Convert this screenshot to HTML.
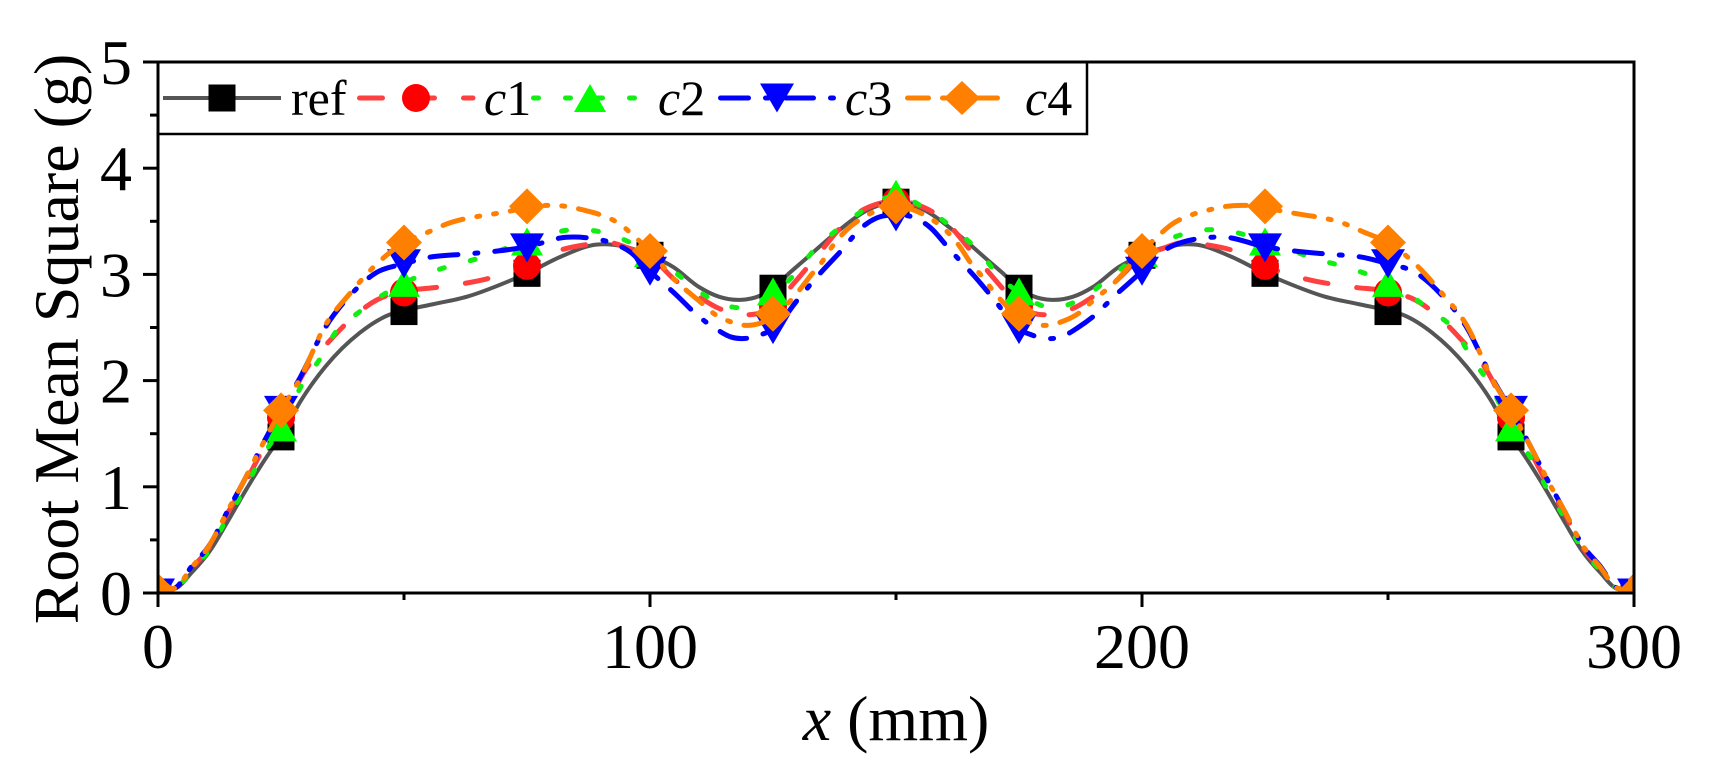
<!DOCTYPE html>
<html><head><meta charset="utf-8">
<style>
html,body{margin:0;padding:0;background:#fff;}
svg{display:block;}
text{font-family:"Liberation Serif","Times New Roman",serif;fill:#000;}
</style></head><body>
<svg id="s" width="1713" height="782" viewBox="0 0 1713 782" xmlns="http://www.w3.org/2000/svg">
<defs><clipPath id="cp"><rect x="158" y="62" width="1476" height="531"/></clipPath></defs>
<rect x="0" y="0" width="1713" height="782" fill="#fff"/>
<g id="plot" clip-path="url(#cp)"></g>

<!-- legend -->
<rect x="158" y="62" width="929" height="72" fill="#fff" stroke="#000" stroke-width="2.5"/>
<line x1="163" y1="98" x2="281" y2="98" stroke="#555555" stroke-width="4"/>
<rect x="208.5" y="84.5" width="27" height="27" fill="#000"/>
<text x="291" y="115" font-size="50">ref</text>

<line x1="359.5" y1="98" x2="473" y2="98" stroke="#ff4040" stroke-width="5" stroke-linecap="round" stroke-dasharray="23 29"/>
<circle cx="416" cy="98" r="14" fill="#ff0000"/>
<text x="484" y="115" font-size="50"><tspan font-style="italic">c</tspan>1</text>

<line x1="533.5" y1="98" x2="647" y2="98" stroke="#11ee11" stroke-width="5" stroke-linecap="round" stroke-dasharray="5 27"/>
<polygon points="574,112 606,112 590,84" fill="#00ff00"/>
<text x="658" y="115" font-size="50"><tspan font-style="italic">c</tspan>2</text>

<line x1="720.5" y1="98" x2="835" y2="98" stroke="#0000ff" stroke-width="5" stroke-linecap="round" stroke-dasharray="28 17 3 17"/>
<polygon points="760,83.5 794,83.5 777,112.5" fill="#0000ff"/>
<text x="845" y="115" font-size="50"><tspan font-style="italic">c</tspan>3</text>

<line x1="907.5" y1="98" x2="1010" y2="98" stroke="#ff8000" stroke-width="5" stroke-linecap="round" stroke-dasharray="21 14 3 14 3 14"/>
<polygon points="962,81 980,98 962,115 944,98" fill="#ff8000"/>
<text x="1025" y="115" font-size="50"><tspan font-style="italic">c</tspan>4</text>

<!-- frame -->
<rect x="158" y="62" width="1476" height="531" fill="none" stroke="#000" stroke-width="3"/>
<g id="ticks" stroke="#000" stroke-width="3"></g>
<g id="labels" font-size="64"></g>

<text x="896" y="740" text-anchor="middle" font-size="64"><tspan font-style="italic">x</tspan> (mm)</text>
<text transform="translate(78,339) rotate(-90)" text-anchor="middle" font-size="64">Root Mean Square (g)</text>
</svg>
<script>
(function(){
var NS="http://www.w3.org/2000/svg";
function X(x){return 158+x*4.92;}
function Y(v){return 593-v*106.2;}
function el(tag,attrs,parent,txt){var e=document.createElementNS(NS,tag);for(var k in attrs)e.setAttribute(k,attrs[k]);if(txt!==undefined)e.textContent=txt;parent.appendChild(e);return e;}

var tg=document.getElementById('ticks'), lg=document.getElementById('labels');
for(var v=0;v<=5;v++){
  el('line',{x1:143,y1:Y(v),x2:158,y2:Y(v)},tg);
  if(v<5) el('line',{x1:150,y1:Y(v+0.5),x2:158,y2:Y(v+0.5)},tg);
  el('text',{x:132,y:Y(v)+22,'text-anchor':'end'},lg,String(v));
}
for(var x=0;x<=300;x+=50){
  var maj=(x%100===0);
  el('line',{x1:X(x),y1:593,x2:X(x),y2:maj?607:600},tg);
  if(maj) el('text',{x:X(x),y:668,'text-anchor':'middle'},lg,String(x));
}

var series=[
{lc:'#555555',w:4,dash:null,mk:'square',mc:'#000000',
 m:[0,1.47,2.65,3.01,3.18,2.87,3.68],
 p:[[0,0.15],[3,0.04],[7,0.2],[10.6,0.4],[14,0.66],[18,0.98],[22.8,1.33],[25,1.47],[28.9,1.8],[34,2.13],[41,2.45],[47,2.62],[50,2.66],[56,2.72],[62.8,2.79],[71,2.93],[75,3.01],[82,3.17],[89,3.28],[95,3.26],[100,3.18],[104.7,3.07],[110,2.88],[114,2.79],[118.3,2.76],[122.4,2.8],[125,2.87],[128.5,3.02],[131,3.12],[138,3.4],[144,3.6],[150,3.68]]},
{lc:'#ff4040',w:5,dash:'23 29',mk:'circle',mc:'#ff0000',
 m:[0,1.65,2.83,3.08,3.18,2.7,3.69],
 p:[[0,0.15],[3,0.04],[7,0.24],[10.6,0.44],[14,0.74],[17.3,1.0],[20.7,1.3],[25,1.65],[30,2.1],[35.6,2.41],[39,2.57],[44.5,2.76],[50,2.84],[57,2.88],[67,2.96],[75,3.08],[80,3.2],[87,3.28],[92,3.3],[96,3.24],[100,3.17],[105,2.95],[109,2.82],[114,2.68],[119,2.62],[125,2.7],[128,2.85],[133,3.12],[141,3.54],[146,3.66],[150,3.69]]},
{lc:'#11ee11',w:5,dash:'5 27',mk:'up',mc:'#00ff00',
 m:[0,1.56,2.92,3.31,3.2,2.84,3.76],
 p:[[0,0.15],[3,0.04],[7,0.22],[10.6,0.42],[14,0.7],[17.3,0.95],[20.7,1.25],[25,1.56],[29.5,1.98],[33,2.21],[36,2.45],[41,2.65],[46.5,2.83],[50,2.92],[58.7,3.07],[65,3.15],[71,3.25],[75,3.31],[84,3.42],[90,3.4],[96,3.3],[100,3.2],[107,2.95],[112,2.78],[119,2.69],[125,2.83],[129,2.98],[133,3.21],[138,3.42],[144,3.62],[150,3.74]]},
{lc:'#0000ff',w:5,dash:'28 17 3 17',mk:'down',mc:'#0000ff',
 m:[0,1.72,3.1,3.25,3.03,2.48,3.54],
 p:[[0,0.15],[3,0.04],[7,0.26],[10.6,0.46],[14,0.76],[17.3,1.04],[20.7,1.35],[25,1.72],[28.9,2.03],[34,2.5],[39,2.8],[44.5,3.02],[50,3.1],[55,3.16],[62,3.19],[69,3.22],[75,3.26],[83,3.35],[88,3.34],[92,3.3],[96,3.21],[100,3.03],[105.5,2.8],[110,2.6],[113,2.5],[116.5,2.41],[120,2.4],[123,2.44],[125,2.48],[130,2.76],[134,2.98],[139,3.23],[143,3.44],[146,3.53],[150,3.56]]},
{lc:'#ff8000',w:5,dash:'21 14 3 14 3 14',mk:'diamond',mc:'#ff8000',
 m:[0,1.72,3.3,3.64,3.22,2.63,3.64],
 p:[[0,0.15],[3,0.04],[7,0.25],[10.6,0.46],[14,0.76],[17.3,1.04],[20.7,1.35],[25,1.72],[28.9,2.02],[34,2.52],[39,2.82],[44.5,3.1],[50,3.3],[55,3.4],[59,3.48],[63,3.53],[67,3.56],[72,3.6],[75,3.63],[79,3.65],[83,3.64],[87,3.6],[90,3.56],[94,3.47],[97,3.35],[100,3.22],[105,2.95],[110,2.75],[113,2.63],[116,2.56],[120,2.52],[125,2.6],[130,2.83],[132.5,2.98],[135,3.12],[137,3.26],[140,3.42],[143.5,3.54],[150,3.64]]}
];

function pathFor(pts){
  var P=pts.map(function(q){return [X(q[0]),Y(q[1])];});
  var n=P.length, m=[];
  for(var i=0;i<n;i++){
    if(i===0){m.push((P[1][1]-P[0][1])/(P[1][0]-P[0][0]));continue;}
    if(i===n-1){m.push((P[n-1][1]-P[n-2][1])/(P[n-1][0]-P[n-2][0]));continue;}
    var h0=P[i][0]-P[i-1][0], h1=P[i+1][0]-P[i][0];
    var s0=(P[i][1]-P[i-1][1])/h0, s1=(P[i+1][1]-P[i][1])/h1;
    m.push((s0*h1+s1*h0)/(h0+h1));
  }
  var d='M'+P[0][0].toFixed(2)+','+P[0][1].toFixed(2);
  for(var i=0;i<n-1;i++){
    var dx=P[i+1][0]-P[i][0];
    d+=' C'+(P[i][0]+dx/3).toFixed(2)+','+(P[i][1]+m[i]*dx/3).toFixed(2)+' '+
       (P[i+1][0]-dx/3).toFixed(2)+','+(P[i+1][1]-m[i+1]*dx/3).toFixed(2)+' '+
       P[i+1][0].toFixed(2)+','+P[i+1][1].toFixed(2);
  }
  return d;
}

function marker(g,type,cx,cy,c){
  if(type==='square') el('rect',{x:cx-13.5,y:cy-13.5,width:27,height:27,fill:c},g);
  else if(type==='circle') el('circle',{cx:cx,cy:cy,r:14,fill:c},g);
  else if(type==='up') el('polygon',{points:(cx-16)+','+(cy+14)+' '+(cx+16)+','+(cy+14)+' '+cx+','+(cy-14),fill:c},g);
  else if(type==='down') el('polygon',{points:(cx-17)+','+(cy-14.5)+' '+(cx+17)+','+(cy-14.5)+' '+cx+','+(cy+14.5),fill:c},g);
  else el('polygon',{points:cx+','+(cy-18)+' '+(cx+18)+','+cy+' '+cx+','+(cy+18)+' '+(cx-18)+','+cy,fill:c},g);
}

var pg=document.getElementById('plot');
series.forEach(function(s){
  var left=s.p;
  var right=left.filter(function(q){return q[0]<150;}).map(function(q){return [300-q[0],q[1]];}).reverse();
  var all=left.concat(right);
  var a={d:pathFor(all),fill:'none',stroke:s.lc,'stroke-width':s.w,'stroke-linejoin':'round'};
  if(s.dash){a['stroke-dasharray']=s.dash;a['stroke-linecap']='round';}
  el('path',a,pg);
  for(var k=0;k<=12;k++){
    var v=s.m[k<=6?k:12-k];
    marker(pg,s.mk,X(25*k),Y(v),s.mc);
  }
});
})();
</script>
</body></html>
